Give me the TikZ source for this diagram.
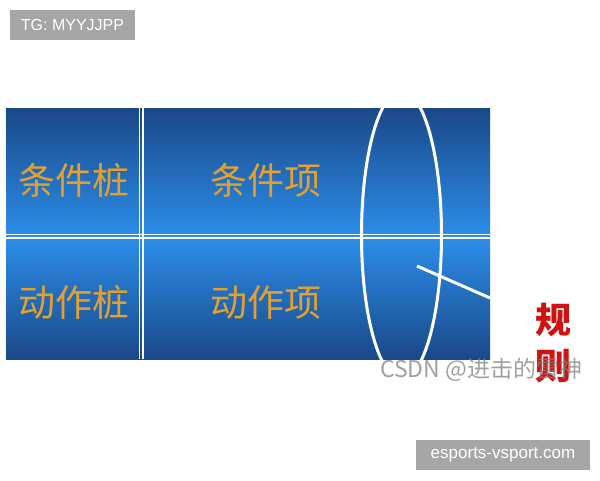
\documentclass[tikz,border=0pt]{standalone}
\usepackage{fontspec}
\setmainfont{Liberation Sans}
\newfontfamily\cjk{Noto Sans CJK SC}
\usepackage{tikz}
\usetikzlibrary{positioning}

\definecolor{paneldark}{RGB}{26,72,136}
\definecolor{panelbright}{RGB}{44,142,234}
\definecolor{stubgold}{RGB}{226,160,48}
\definecolor{rulered}{RGB}{208,18,18}
\definecolor{taggray}{RGB}{166,166,166}

\begin{document}
\begin{tikzpicture}[x=1pt, y=-1pt, on grid,
			cell/.style={text=stubgold, font=\cjk\fontsize{37}{37}\selectfont, inner sep=0pt},
			sep/.style={draw=white, line width=1.5pt},
			ring/.style={draw=white, line width=3pt},
			tag/.style={fill=taggray, text=white, inner sep=0pt, minimum height=30pt} ]
			\useasboundingbox (0,0) rectangle (600,480);
			
			%Painel:
			\shade[top color=paneldark, bottom color=panelbright] (6,108) rectangle (490,236.5);
			\shade[top color=panelbright, bottom color=paneldark] (6,236.5) rectangle (490,359);
			\draw[sep] (139.5,108) -- (139.5,359);
			\draw[sep] (143,108) -- (143,359);
			\draw[sep] (6,234.5) -- (490,234.5);
			\draw[sep] (6,238) -- (490,238);
			
			\node[cell]		(condStub) at (74,180)           {条件桩};
			\node[cell]		(condEntry)[right=192pt of condStub] {条件项};
			\node[cell]		(actStub)[below=122pt of condStub]  {动作桩};
			\node[cell]		(actEntry)[right=192pt of actStub]  {动作项};
			
			\coordinate (ruleA) at (417,266);
			\coordinate (ruleB) at (490,298);
			\begin{scope}
				\clip (6,108) rectangle (490,359);
				\draw[ring] (401.5,235) ellipse [x radius=40, y radius=144];
				\draw[ring] (ruleA) -- (ruleB);
			\end{scope}
			
			\node[text=rulered, font=\cjk\bfseries\fontsize{36}{46}\selectfont, align=center, inner sep=0pt]
				(ruleLbl) at (553,343) {规\\则};
			\node[text=gray, opacity=0.75, font=\cjk\fontsize{23}{23}\selectfont, anchor=west, inner sep=0pt]
				(mark) at (380,370) {CSDN @进击的雷神};
			
			\node[tag, minimum width=125pt, font=\fontsize{16}{16}\selectfont] (tgTag) at (72.5,25) {TG: MYYJJPP};
			\node[tag, minimum width=174pt, font=\fontsize{17}{17}\selectfont] (siteTag) at (503,455) {esports-vsport.com};
		\end{tikzpicture}
\end{document}
